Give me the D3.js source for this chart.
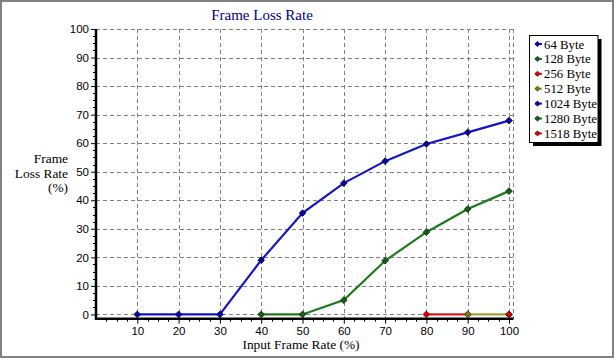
<!DOCTYPE html>
<html><head><meta charset="utf-8">
<script src="https://cdn.jsdelivr.net/npm/d3@7"></script>
<style>body{margin:0;background:#fff}svg{display:block}</style>
</head><body>
<script>
const xValues = [10, 20, 30, 40, 50, 60, 70, 80, 90, 100];
const yTicks = [0, 10, 20, 30, 40, 50, 60, 70, 80, 90, 100];
const seriesNames = ["64 Byte", "128 Byte", "256 Byte", "512 Byte", "1024 Byte", "1280 Byte", "1518 Byte"];
const s64   = [0, 0, 0, 19, 35.5, 46, 53.7, 59.7, 63.8, 67.9];
const s128  = [null, null, null, 0, 0, 5, 18.8, 28.8, 36.9, 43.2];
const s256  = [null, null, null, null, null, null, null, 0, 0, null];
const s512  = [null, null, null, null, null, null, null, null, 0, 0];
const s1024 = [null, null, null, null, null, null, null, null, null, null];
const s1280 = [null, null, null, null, null, null, null, null, null, null];
const s1518 = [null, null, null, null, null, null, null, null, null, 0];
const lineColors = ["#1414c8", "#1c7a1c", "#d42020", "#a0a040", "#1414c8", "#1c7a1c", "#d42020"];
const markColors = ["#0a0a9a", "#1a5e1a", "#d80000", "#7a7a10", "#0a0a9a", "#1a5e1a", "#d80000"];
const markStroke = ["#000050", "#003000", "#600000", "#404000", "#000050", "#003000", "#600000"];

const seriesValues = [s64, s128, s256, s512, s1024, s1280, s1518];

(function () {
const W = 615, H = 359;
const svg = d3.select("body").append("svg").attr("width", W).attr("height", H);

svg.append("rect").attr("x", 1).attr("y", 1).attr("width", 612).attr("height", 356)
  .attr("fill", "#fff").attr("stroke", "#808080").attr("stroke-width", 2);

const x = d3.scaleLinear().domain([0, 100]).range([96, 509]);
const y = d3.scaleLinear().domain([-1.5, 100]).range([318.7, 29]);
const pL = x(0), pR = x(100) + 3.5, pT = y(100), pB = y(-1.5);

const grid = svg.append("g").attr("stroke", "#808080").attr("stroke-width", 1)
  .attr("stroke-dasharray", "4,3").attr("shape-rendering", "crispEdges");
xValues.forEach(v => grid.append("line").attr("x1", Math.round(x(v)) + 0.5).attr("x2", Math.round(x(v)) + 0.5)
  .attr("y1", pT).attr("y2", pB));
yTicks.forEach(v => grid.append("line").attr("x1", pL).attr("x2", pR)
  .attr("y1", Math.round(y(v)) + 0.5).attr("y2", Math.round(y(v)) + 0.5));
grid.append("line").attr("x1", pR + 0.5).attr("x2", pR + 0.5).attr("y1", pT).attr("y2", pB);

const yAxis = d3.axisLeft(y).tickValues(yTicks).tickSize(5).tickPadding(2);
const gy = svg.append("g").attr("transform", `translate(${pL},0)`).call(yAxis);
gy.select(".domain").remove();
gy.selectAll("text").attr("font-family", "Liberation Sans, Arial, sans-serif").attr("font-size", 11.5).attr("fill", "#000");
gy.selectAll("line").attr("stroke", "#000");
const yMinor = d3.range(0, 100, 2.5).filter(v => v % 10 !== 0);
svg.append("g").selectAll("line").data(yMinor).join("line")
  .attr("x1", pL - 3).attr("x2", pL).attr("y1", d => Math.round(y(d)) + 0.5).attr("y2", d => Math.round(y(d)) + 0.5)
  .attr("stroke", "#000");

const xAxis = d3.axisBottom(x).tickValues(xValues).tickSize(5).tickPadding(3);
const gx = svg.append("g").attr("transform", `translate(0,${pB})`).call(xAxis);
gx.select(".domain").remove();
gx.selectAll("text").attr("font-family", "Liberation Sans, Arial, sans-serif").attr("font-size", 11.5).attr("fill", "#000");
gx.selectAll("line").attr("stroke", "#000");
const xMinor = d3.range(2.5, 100, 2.5).filter(v => v % 10 !== 0);
svg.append("g").selectAll("line").data(xMinor).join("line")
  .attr("x1", d => Math.round(x(d)) + 0.5).attr("x2", d => Math.round(x(d)) + 0.5).attr("y1", pB).attr("y2", pB + 3)
  .attr("stroke", "#000");

svg.append("line").attr("x1", pL).attr("x2", pL).attr("y1", pT).attr("y2", pB + 1)
  .attr("stroke", "#000").attr("stroke-width", 2.5);
svg.append("line").attr("x1", pL - 1).attr("x2", pR + 1).attr("y1", pB).attr("y2", pB)
  .attr("stroke", "#000").attr("stroke-width", 2.5);

const diamond = d3.symbol().type(d3.symbolSquare).size(22);
seriesValues.forEach((vals, i) => {
  const pts = xValues.map((xv, j) => ({ x: xv, y: vals[j] }));
  const line = d3.line().defined(d => d.y !== null).x(d => x(d.x)).y(d => y(d.y));
  svg.append("path").datum(pts).attr("d", line).attr("fill", "none")
    .attr("stroke", lineColors[i]).attr("stroke-width", 2.2);
  svg.append("g").selectAll("path").data(pts.filter(d => d.y !== null)).join("path")
    .attr("d", diamond).attr("transform", d => `translate(${x(d.x)},${y(d.y)}) rotate(45)`)
    .attr("fill", markColors[i]).attr("stroke", markStroke[i]).attr("stroke-width", 0.8);
});

const serif = "Liberation Serif, Times New Roman, serif";
svg.append("text").attr("x", 262).attr("y", 20).attr("text-anchor", "middle")
  .attr("font-family", serif).attr("font-size", 15).attr("fill", "#00008b").text("Frame Loss Rate");
svg.append("text").attr("x", 301).attr("y", 349).attr("text-anchor", "middle")
  .attr("font-family", serif).attr("font-size", 13.4).attr("fill", "#000").text("Input Frame Rate (%)");
const yl = svg.append("text").attr("text-anchor", "end").attr("font-family", serif).attr("font-size", 13.4).attr("fill", "#000");
[["Frame", 162.5], ["Loss Rate", 177.5], ["(%)", 191.5]].forEach(([t, yy]) => yl.append("tspan").attr("x", 68).attr("y", yy).text(t));

const lg = svg.append("g");
lg.append("rect").attr("x", 533).attr("y", 39).attr("width", 68.5).attr("height", 107).attr("fill", "#000");
lg.append("rect").attr("x", 529.5).attr("y", 35.5).attr("width", 68.5).attr("height", 107)
  .attr("fill", "#fff").attr("stroke", "#000").attr("stroke-width", 1);
seriesNames.forEach((name, i) => {
  const yy = 44 + i * 14.9;
  lg.append("line").attr("x1", 535).attr("x2", 542).attr("y1", yy).attr("y2", yy)
    .attr("stroke", lineColors[i]).attr("stroke-width", 2);
  lg.append("path").attr("d", d3.symbol().type(d3.symbolSquare).size(14)).attr("transform", `translate(537.5,${yy}) rotate(45)`)
    .attr("fill", markColors[i]).attr("stroke", markStroke[i]).attr("stroke-width", 0.6);
  lg.append("text").attr("x", 544).attr("y", yy + 4.5).attr("font-family", serif).attr("font-size", 12.8)
    .attr("fill", "#000").text(name);
});
})();
</script>
</body></html>
